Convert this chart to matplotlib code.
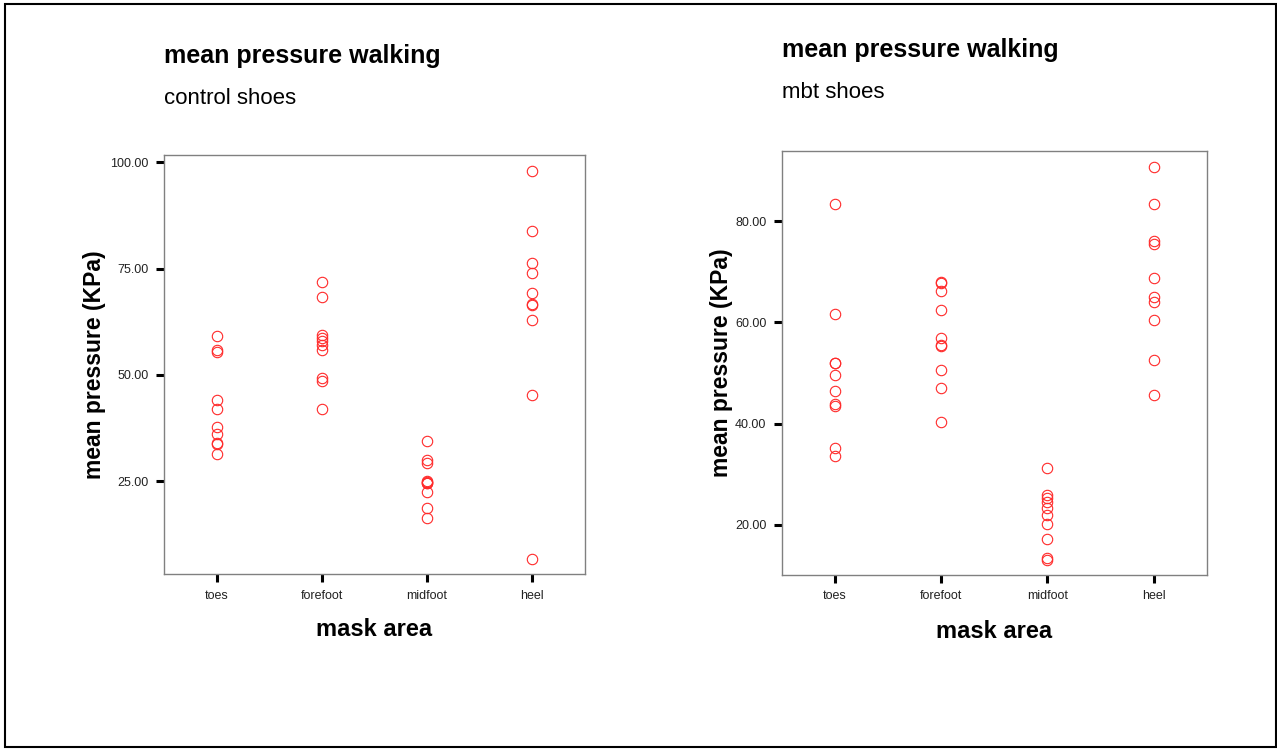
import numpy as np
import matplotlib
matplotlib.use("Agg")
import matplotlib.pyplot as plt
from matplotlib.patches import Rectangle
from matplotlib.ticker import FormatStrFormatter

plt.rcParams['font.family'] = ['Liberation Sans', 'DejaVu Sans']

areas = ['toes', 'forefoot', 'midfoot', 'heel']

# control shoes, mean pressure (KPa) per mask area
control_toes = [59.2, 55.8, 55.5, 44.1, 42.0, 37.8, 36.1, 34.0, 33.7, 31.5]
control_forefoot = [71.9, 68.3, 59.4, 58.6, 58.0, 57.0, 55.9, 49.2, 48.6, 42.0]
control_midfoot = [34.5, 30.0, 29.4, 25.0, 24.9, 24.7, 24.5, 22.5, 18.7, 16.4]
control_heel = [98.0, 83.9, 76.4, 74.0, 69.3, 66.8, 66.4, 63.0, 45.3, 6.6]

# mbt shoes
mbt_toes = [83.4, 61.6, 52.0, 51.9, 49.6, 46.4, 43.9, 43.5, 35.1, 33.6]
mbt_forefoot = [68.0, 67.8, 66.2, 62.5, 57.0, 55.5, 55.3, 50.6, 47.1, 40.4]
mbt_midfoot = [31.3, 25.9, 25.3, 24.5, 23.4, 22.0, 20.2, 17.2, 13.5, 13.0]
mbt_heel = [90.7, 83.4, 76.1, 75.4, 68.8, 65.0, 64.0, 60.5, 52.6, 45.7]

control = [control_toes, control_forefoot, control_midfoot, control_heel]
mbt = [mbt_toes, mbt_forefoot, mbt_midfoot, mbt_heel]

fig = plt.figure(figsize=(12.77, 7.49), dpi=100)

def draw_panel(ax, groups, yticks, ylim, label_x):
    for i, vals in enumerate(groups):
        ax.plot([i + 1] * len(vals), vals, 'o', mfc='none', mec='#ff2a2a',
                ms=7.5, mew=0.8, ls='none')
    ax.set_xlim(0.5, 4.5)
    ax.set_ylim(*ylim)
    ax.set_xticks([1, 2, 3, 4])
    ax.set_xticklabels(areas)
    ax.set_yticks(yticks)
    ax.yaxis.set_major_formatter(FormatStrFormatter('%.2f'))
    ax.tick_params(length=6, width=2.2, color='black', labelsize=9,
                   labelcolor='#222222', pad=5)
    for s in ax.spines.values():
        s.set_color('#808080')
        s.set_linewidth(1.0)
    ax.set_xlabel('mask area', fontsize=17, fontweight='bold')
    ax.set_ylabel('mean pressure (KPa)', fontsize=16.5, fontweight='bold')
    ax.xaxis.set_label_coords(0.5, -0.105)
    ax.yaxis.set_label_coords(label_x, 0.5)

ax1 = fig.add_axes([0.1284, 0.2332, 0.3297, 0.5602])
draw_panel(ax1, control, [25, 50, 75, 100], (3.1, 101.8), -0.138)

ax2 = fig.add_axes([0.6121, 0.2323, 0.3328, 0.5665])
draw_panel(ax2, mbt, [20, 40, 60, 80], (10.1, 93.9), -0.114)

fig.text(0.1284, 0.9155, 'mean pressure walking', fontsize=18,
         fontweight='bold', va='baseline')
fig.text(0.1284, 0.8611, 'control shoes', fontsize=16, va='baseline')
fig.text(0.6124, 0.9243, 'mean pressure walking', fontsize=18,
         fontweight='bold', va='baseline')
fig.text(0.6124, 0.8688, 'mbt shoes', fontsize=16, va='baseline')

# outer frame
fig.patches.append(Rectangle((5 / 1277, 2 / 749), 1271 / 1277, 743 / 749,
                             transform=fig.transFigure, fill=False,
                             edgecolor='black', lw=1.5))

fig.savefig('out.png', dpi=100)
